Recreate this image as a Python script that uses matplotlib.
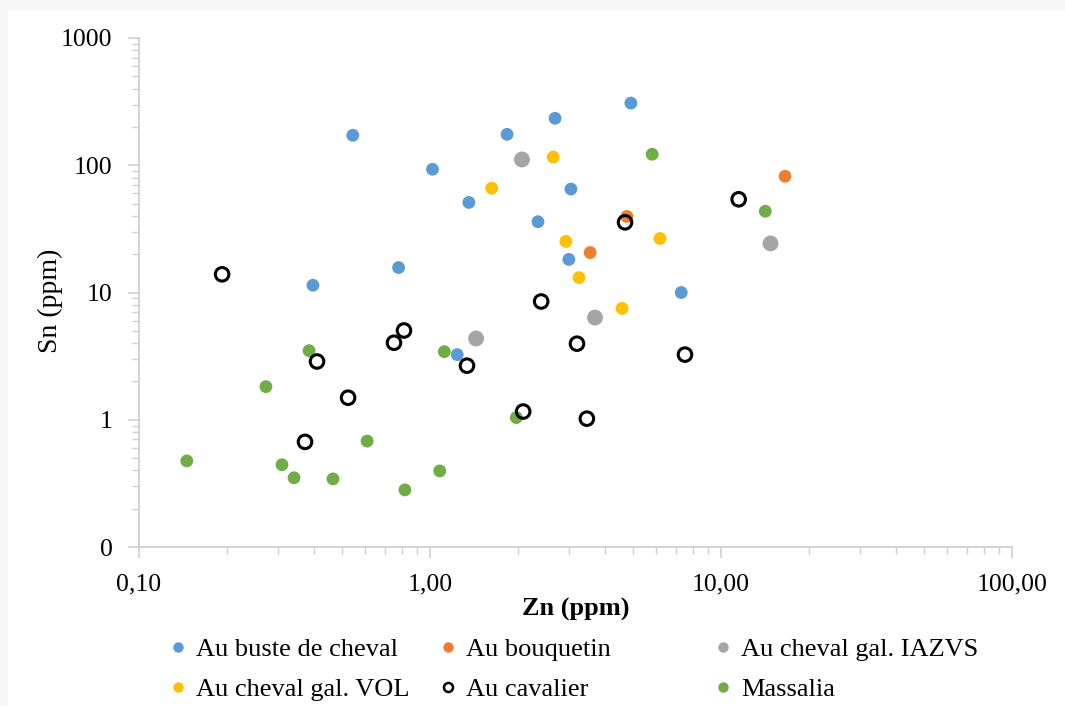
import matplotlib
matplotlib.use("Agg")
import matplotlib.pyplot as plt
from matplotlib.patches import Rectangle
from matplotlib.lines import Line2D
from matplotlib.ticker import FixedLocator, FixedFormatter, LogLocator, NullFormatter

plt.rcParams['font.family'] = ['Liberation Serif', 'DejaVu Serif']

# %% data (Zn, Sn in ppm)
buste_zn = [0.543, 0.396, 0.78, 1.02, 1.36, 1.84, 2.69, 2.35, 3.05, 3.0, 4.9, 7.3, 1.24]
buste_sn = [172, 11.4, 15.7, 93, 51, 175, 234, 36, 65, 18.2, 308, 10, 3.25]

bouquetin_zn = [16.6, 4.75, 3.55]
bouquetin_sn = [82, 39.6, 20.6]

iazvs_zn = [2.07, 14.8, 3.69, 1.44]
iazvs_sn = [111, 24.3, 6.35, 4.35]

vol_zn = [2.65, 1.63, 2.93, 6.17, 3.25, 4.57]
vol_sn = [116, 66, 25.2, 26.6, 13.1, 7.5]

cavalier_zn = [0.193, 0.409, 0.372, 0.523, 0.752, 0.814, 1.34, 2.09, 2.41, 3.2, 3.46, 4.68, 7.52, 11.5]
cavalier_sn = [13.9, 2.87, 0.67, 1.49, 4.03, 5.03, 2.66, 1.16, 8.5, 3.96, 1.02, 35.6, 3.25, 54]

massalia_zn = [0.146, 0.273, 0.384, 0.31, 0.341, 0.464, 0.608, 0.82, 1.08, 1.12, 1.98, 5.8, 14.2]
massalia_sn = [0.475, 1.82, 3.49, 0.443, 0.35, 0.343, 0.68, 0.281, 0.396, 3.43, 1.04, 122, 43.5]

x_ticks = [0.1, 1, 10, 100]
x_labels = ["0,10", "1,00", "10,00", "100,00"]
y_ticks = [0.1, 1, 10, 100, 1000]
y_labels = ["0", "1", "10", "100", "1000"]

# %% figure
fig = plt.figure(figsize=(10.65, 7.06), dpi=100)
fig.patch.set_facecolor("#f6f6f6")
fig.patches.append(Rectangle((8 / 1065, 0), 1, 1 - 10 / 706, transform=fig.transFigure,
                             facecolor="white", edgecolor="none", zorder=-5))

ax = fig.add_axes([139 / 1065, 1 - 547 / 706, (1012 - 139) / 1065, (547 - 38) / 706])
ax.set_xscale("log")
ax.set_yscale("log")
ax.set_xlim(0.1, 100)
ax.set_ylim(0.1, 1000)

ax.scatter(buste_zn, buste_sn, s=85, color="#5b9bd5", edgecolors="none", zorder=3)
ax.scatter(bouquetin_zn, bouquetin_sn, s=85, color="#ed7d31", edgecolors="none", zorder=3)
ax.scatter(iazvs_zn, iazvs_sn, s=130, color="#a5a5a5", edgecolors="none", zorder=3)
ax.scatter(vol_zn, vol_sn, s=85, color="#ffc000", edgecolors="none", zorder=3)
ax.scatter(massalia_zn, massalia_sn, s=85, color="#70ad47", edgecolors="none", zorder=3)
ax.scatter(cavalier_zn, cavalier_sn, s=95, facecolors="none", edgecolors="black",
           linewidths=2.2, zorder=4)

# axes styling
for side in ["top", "right"]:
    ax.spines[side].set_visible(False)
for side in ["left", "bottom"]:
    ax.spines[side].set_color("#d0d0d0")
    ax.spines[side].set_linewidth(1.3)

ax.xaxis.set_major_locator(FixedLocator(x_ticks))
ax.xaxis.set_major_formatter(FixedFormatter(x_labels))
ax.yaxis.set_major_locator(FixedLocator(y_ticks))
ax.yaxis.set_major_formatter(FixedFormatter(y_labels))
ax.xaxis.set_minor_locator(LogLocator(base=10, subs=range(2, 10)))
ax.yaxis.set_minor_locator(LogLocator(base=10, subs=range(2, 10)))
ax.xaxis.set_minor_formatter(NullFormatter())
ax.yaxis.set_minor_formatter(NullFormatter())

ax.tick_params(which="major", direction="out", length=8, width=1.2, color="#d0d0d0",
               labelsize=18.5, labelcolor="black")
ax.tick_params(which="minor", direction="out", length=5, width=1.0, color="#d0d0d0")
ax.tick_params(axis="x", which="major", pad=11)
ax.tick_params(axis="y", which="major", pad=11)

ax.set_xlabel("Zn (ppm)", fontsize=19, fontweight="bold", labelpad=2)
ax.set_ylabel("Sn (ppm)", fontsize=20)
ax.yaxis.set_label_coords(-0.087, 0.483)

# legend: three columns placed separately
def dot(color, ms=7.5):
    return Line2D([], [], marker="o", linestyle="none", markersize=ms,
                  markerfacecolor=color, markeredgecolor="none")

open_dot = Line2D([], [], marker="o", linestyle="none", markersize=6.5,
                  markerfacecolor="none", markeredgecolor="black", markeredgewidth=1.8)

legend_cols = [
    ([dot("#5b9bd5"), dot("#ffc000")], ["Au buste de cheval", "Au cheval gal. VOL"], 170),
    ([dot("#ed7d31"), open_dot], ["Au bouquetin", "Au cavalier"], 440),
    ([dot("#a5a5a5"), dot("#70ad47")], ["Au cheval gal. IAZVS", "Massalia"], 715),
]
for hs, ls, x0 in legend_cols:
    leg = fig.legend(hs, ls, loc="upper left", bbox_to_anchor=(x0 / 1065, 1 - 638 / 706),
                     ncol=1, frameon=False, fontsize=19, handlelength=0.6, handletextpad=0.4,
                     labelspacing=0.6, borderaxespad=0, borderpad=0)

fig.savefig("out.png", dpi=100)
